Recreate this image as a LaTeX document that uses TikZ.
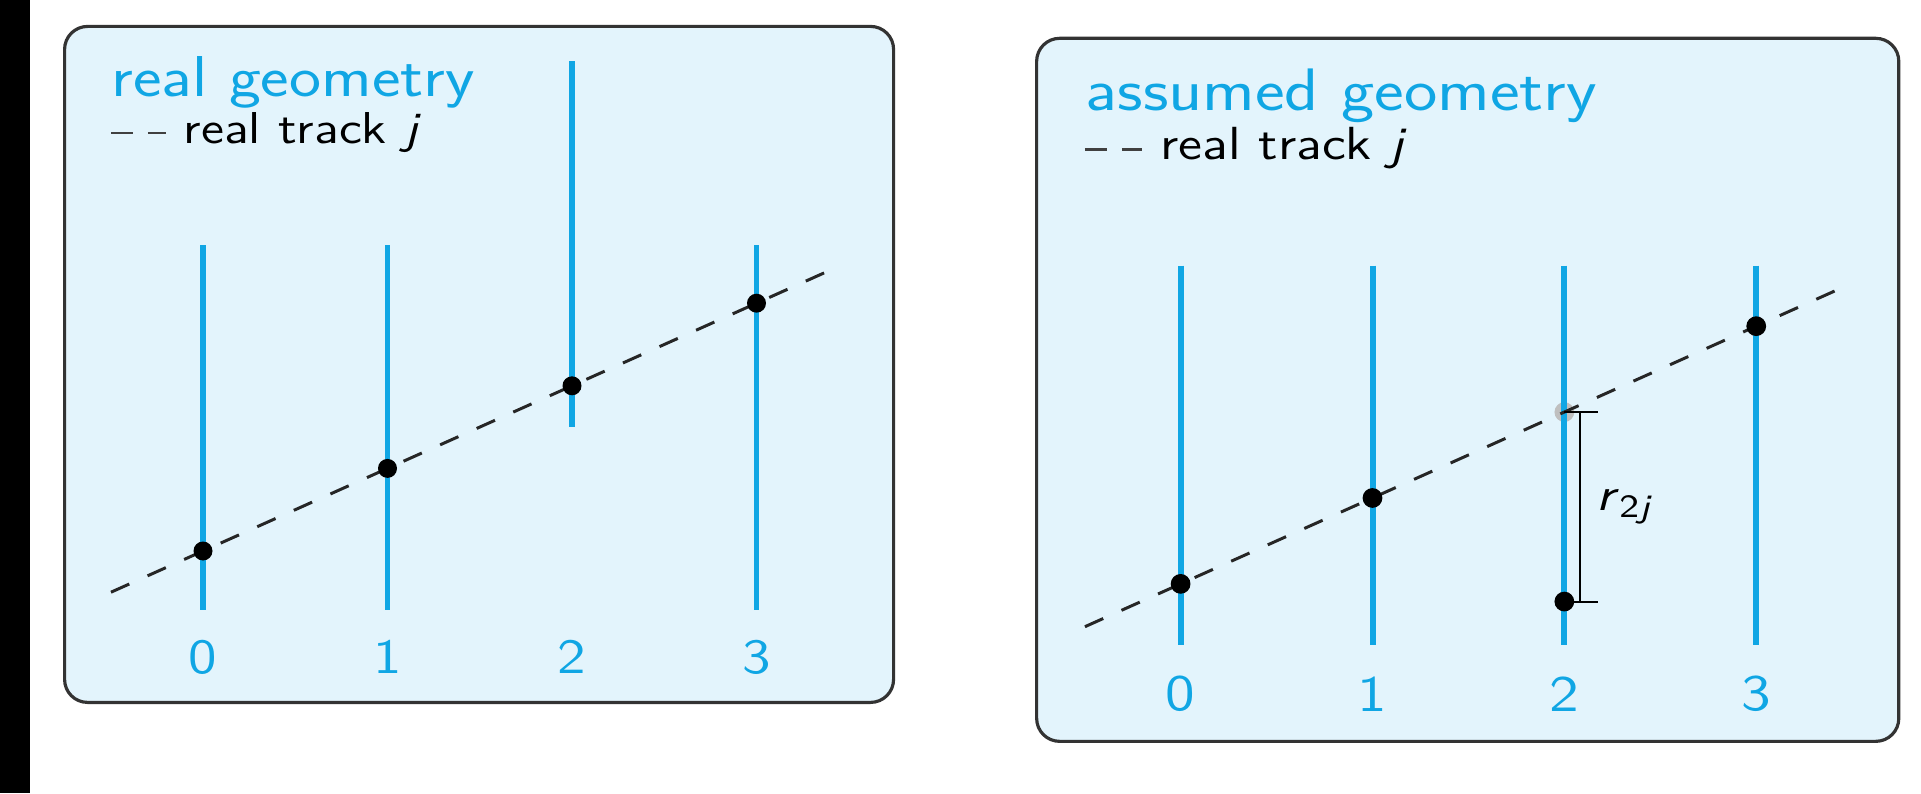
\documentclass[tikz,border=0pt]{standalone}
\usepackage{fontspec}
\usepackage{graphicx}
\usepackage{tikz}
\usetikzlibrary{positioning}
\definecolor{geoblue}{RGB}{16,166,228}
\definecolor{panelbg}{RGB}{227,244,252}
\newcommand{\wtext}[1]{\scalebox{1.18}[1]{#1}}
\tikzset{
    panelbox/.style={draw=black!80, line width=0.9pt, fill=panelbg, rounded corners=0.23cm, anchor=south west, minimum width=8.29cm, minimum height=6.76cm, inner sep=0pt},
    paneltitle/.style={anchor=base west, inner sep=0pt, text=geoblue, font=\sffamily\fontsize{16.4}{19}\selectfont},
    keytext/.style={anchor=base west, inner sep=0pt, font=\sffamily\fontsize{12.7}{15}\selectfont},
    layernum/.style={inner sep=0pt, text=geoblue, font=\sffamily\fontsize{14}{16}\selectfont},
    layerline/.style={draw=geoblue, line width=1.7pt},
    trackline/.style={draw=black!85, line width=0.85pt, dash pattern=on 5.7pt off 5.7pt},
    keyline/.style={draw=black!75, line width=0.85pt, dash pattern=on 0.22cm off 0.15cm},
    hitdot/.style={circle, fill=black, inner sep=0pt, minimum size=0.19cm},
    ghostdot/.style={circle, fill=black!25, inner sep=0pt, minimum size=0.19cm},
    residbar/.style={draw=black, line width=0.55pt},
}

\begin{document}
\begin{tikzpicture}
    \useasboundingbox (0,0) rectangle (19.21,7.93);
    \fill[black] (0,0) rectangle (0.30,7.93);

    % real geometry
    \begin{scope}[shift={(0.63,0.89)}, transform shape]
        \node[panelbox] (realbox) at (0,0) {};
        \node[paneltitle] (realtitle) at (0.48,6.08) {\wtext{real geometry}};
        \coordinate (realkeya) at (0.48,5.71);
        \coordinate (realkeyb) at (1.03,5.71);
        \draw[keyline] (realkeya) -- (realkeyb);
        \node[keytext] (realkey) at (1.20,5.61) {\wtext{real track \textit{j}}};
        \foreach \i/\ya/\yb in {0/4.59/0.94, 1/4.59/0.94, 2/6.43/2.77, 3/4.59/0.94} {
            \coordinate (rtop\i) at (1.40+1.845*\i,\ya);
            \coordinate (rbot\i) at (1.40+1.845*\i,\yb);
            \draw[layerline] (rtop\i) -- (rbot\i);
            \node[layernum] (rnum\i) at (1.40+1.845*\i,0.47) {\wtext{\i}};
        }
        \coordinate (rtracka) at (0.48,1.118);
        \coordinate (rtrackb) at (7.77,4.382);
        \draw[trackline] (rtracka) -- (rtrackb);
        \foreach \i/\y in {0/1.53, 1/2.356, 2/3.182, 3/4.008}
            \node[hitdot] (rhit\i) at (1.40+1.845*\i,\y) {};
    \end{scope}

    % assumed geometry
    \begin{scope}[shift={(10.35,0.50)}, scale=1.04, transform shape]
        \node[panelbox] (asmbox) at (0,0) {};
        \node[paneltitle] (asmtitle) at (0.48,6.08) {\wtext{assumed geometry}};
        \coordinate (asmkeya) at (0.48,5.71);
        \coordinate (asmkeyb) at (1.03,5.71);
        \draw[keyline] (asmkeya) -- (asmkeyb);
        \node[keytext] (asmkey) at (1.20,5.61) {\wtext{real track \textit{j}}};
        \node[ghostdot] (aghost2) at (5.09,3.182) {};
        \foreach \i in {0,...,3} {
            \coordinate (atop\i) at (1.40+1.845*\i,4.59);
            \coordinate (abot\i) at (1.40+1.845*\i,0.94);
            \draw[layerline] (atop\i) -- (abot\i);
            \node[layernum] (anum\i) at (1.40+1.845*\i,0.47) {\wtext{\i}};
        }
        \coordinate (atracka) at (0.48,1.118);
        \coordinate (atrackb) at (7.77,4.382);
        \draw[trackline] (atracka) -- (atrackb);
        \foreach \i/\y in {0/1.53, 1/2.356, 3/4.008}
            \node[hitdot] (ahit\i) at (1.40+1.845*\i,\y) {};
        \node[hitdot] (ahit2) at (5.09,1.36) {};
        % residual
        \draw[residbar] (aghost2.center) -- ++(0.32,0);
        \draw[residbar] (ahit2.center) -- ++(0.32,0);
        \draw[residbar] ([xshift=0.15cm]aghost2.center) -- node[keytext, anchor=west, midway, right=0.15cm] (ares) {\wtext{\textit{r}\textsubscript{2\textit{j}}}} ([xshift=0.15cm]ahit2.center);
    \end{scope}
\end{tikzpicture}
\end{document}
